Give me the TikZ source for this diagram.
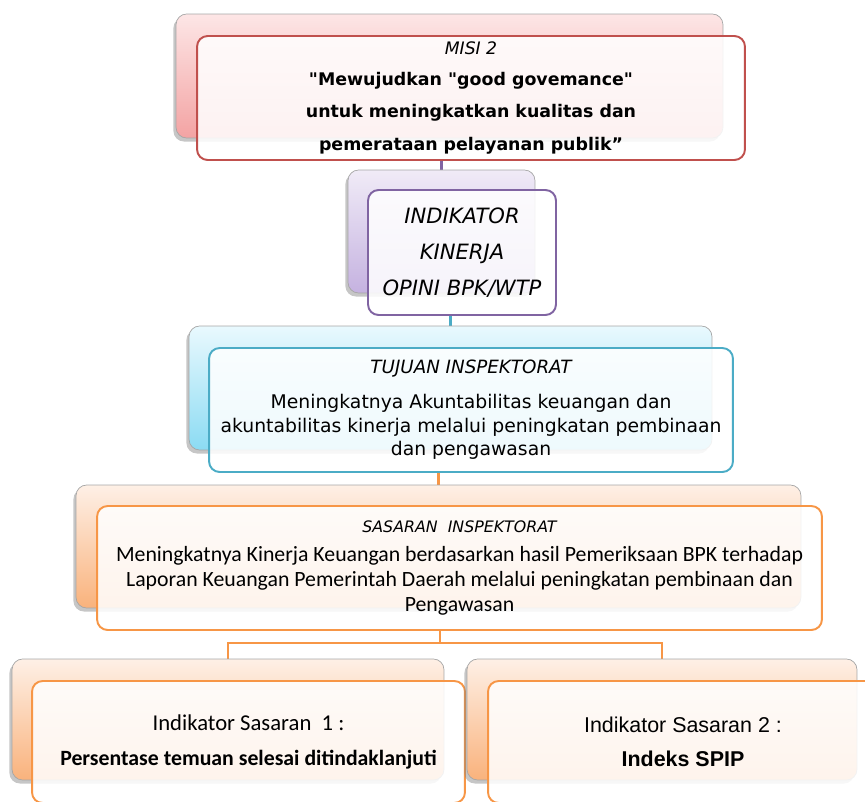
\documentclass[tikz,border=0pt]{standalone}
\usepackage{fontspec}
\newfontfamily\comicfont{DejaVu Sans}
\newfontfamily\calfont{Carlito}
\newfontfamily\arifont{Liberation Sans}
\usetikzlibrary{shadows,backgrounds,positioning}

\definecolor{misiline}{HTML}{C0504D}
\definecolor{misitop}{HTML}{FDE6E6}
\definecolor{misibot}{HTML}{F3A3A3}
\definecolor{indline}{HTML}{8064A2}
\definecolor{indtop}{HTML}{F0EBF7}
\definecolor{indbot}{HTML}{C5B2E0}
\definecolor{tujline}{HTML}{4BACC6}
\definecolor{tujtop}{HTML}{E9F9FE}
\definecolor{tujbot}{HTML}{8BDBF3}
\definecolor{sasline}{HTML}{F79646}
\definecolor{sastop}{HTML}{FEF0E6}
\definecolor{sasbot}{HTML}{F9B27C}

\tikzset{
  backbox/.style={draw=gray!70, rounded corners=6pt, inner sep=0pt,
    drop shadow={shadow xshift=-1.5pt, shadow yshift=-2pt, opacity=0.45}},
  frontbox/.style={draw=#1, line width=1.1pt, rounded corners=6pt, inner sep=0pt,
    fill=white, fill opacity=0.86, text opacity=1, align=center},
  link/.style={line width=1.6pt}
}

\begin{document}
\begin{tikzpicture}[x=0.02cm,y=-0.02cm]
\useasboundingbox (0,0) rectangle (865,801);

% misi
\node[backbox, top color=misitop, bottom color=misibot,
  minimum width=10.94cm, minimum height=2.48cm] (mb) at (449.5,76) {};
\node[frontbox=misiline, minimum width=10.96cm, minimum height=2.48cm,
  font=\comicfont\bfseries\fontsize{9.9}{18.5}\selectfont] (mf) at (471,98)
  {{\mdseries\itshape\fontsize{9.8}{12}\selectfont MISI 2}\\[-1pt]
   "Mewujudkan "good govemance"\\ untuk meningkatkan kualitas dan\\ pemerataan pelayanan publik”};

% indikator kinerja
\node[backbox, top color=indtop, bottom color=indbot,
  minimum width=3.74cm, minimum height=2.46cm] (ib) at (441.5,231.5) {};
\node[frontbox=indline, minimum width=3.76cm, minimum height=2.5cm,
  font=\comicfont\itshape\fontsize{12}{20.6}\selectfont] (if) at (462,252.5)
  {INDIKATOR\\ KINERJA\\ OPINI BPK/WTP};

% tujuan
\node[backbox, top color=tujtop, bottom color=tujbot,
  minimum width=10.46cm, minimum height=2.48cm] (tb) at (450.5,388) {};
\node[frontbox=tujline, minimum width=10.48cm, minimum height=2.48cm,
  font=\comicfont\fontsize{10.7}{13.6}\selectfont] (tf) at (471,410)
  {{\itshape\fontsize{10.4}{12}\selectfont TUJUAN INSPEKTORAT}\\[6pt]
   Meningkatnya Akuntabilitas keuangan dan\\ akuntabilitas kinerja melalui peningkatan pembinaan\\ dan pengawasan};

% sasaran
\node[backbox, top color=sastop, bottom color=sasbot,
  minimum width=14.5cm, minimum height=2.46cm] (sb) at (438.5,546.5) {};
\node[frontbox=sasline, minimum width=14.5cm, minimum height=2.48cm,
  font=\calfont\fontsize{12.4}{14.2}\selectfont] (sf) at (459.5,568)
  {{\comicfont\itshape\fontsize{9}{10}\selectfont SASARAN\ \ INSPEKTORAT}\\[2pt]
   Meningkatnya Kinerja Keuangan berdasarkan hasil Pemeriksaan BPK terhadap\\
   Laporan Keuangan Pemerintah Daerah melalui peningkatan pembinaan dan\\ Pengawasan};

% indikator sasaran
\node[backbox, top color=sastop, bottom color=sasbot,
  minimum width=8.64cm, minimum height=2.42cm] (ab) at (228,719.5) {};
\node[frontbox=sasline, minimum width=8.66cm, minimum height=2.44cm,
  font=\calfont\fontsize{12.4}{19.8}\selectfont] (af) at (248.5,742)
  {{\fontsize{12.9}{14}\selectfont Indikator Sasaran\ \ 1 :}\\ \textbf{Persentase temuan selesai ditindaklanjuti}};
\node[backbox, top color=sastop, bottom color=sasbot,
  minimum width=7.8cm, minimum height=2.42cm] (bb) at (662,719.5) {};
\node[frontbox=sasline, minimum width=7.8cm, minimum height=2.44cm,
  font=\arifont\fontsize{12.2}{19.5}\selectfont] (bf) at (683,742)
  {Indikator Sasaran 2 :\\ \textbf{Indeks SPIP}};

% connectors
\coordinate (fork) at (440,643);
\begin{scope}[on background layer]
\draw[link, indline] (mf.south -| ib.north) -- (ib.north);
\draw[link, tujline] (if.south -| tb.north) -- (tb.north);
\draw[link, sasline] (tf.south -| sb.north) -- (sb.north);
\draw[link, sasline] (sf.south -| fork) -- (fork) -| (ab.north);
\draw[link, sasline] (fork) -| (bb.north);
\end{scope}
\end{tikzpicture}
\end{document}
